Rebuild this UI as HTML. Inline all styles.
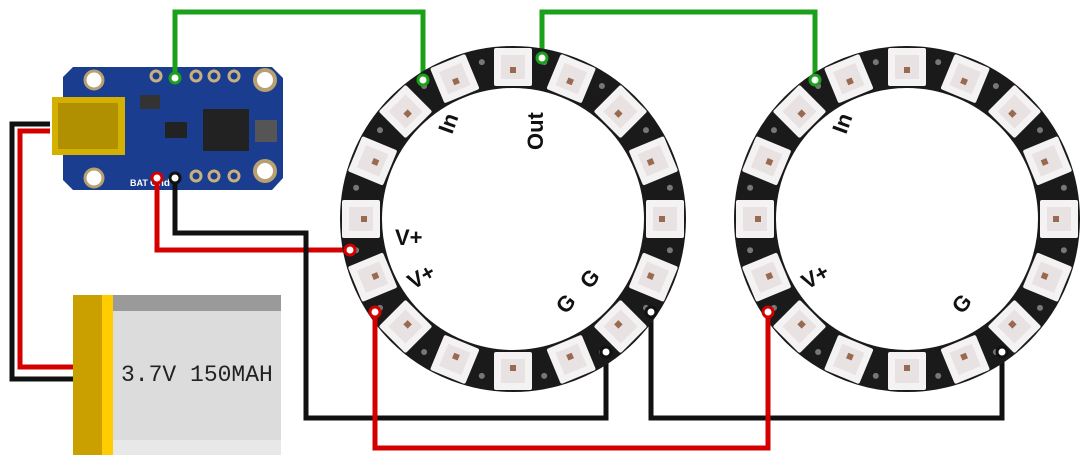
<!DOCTYPE html>
<html><head><meta charset="utf-8"><style>
html,body{margin:0;padding:0;background:#fff;width:1088px;height:467px;overflow:hidden}
svg{display:block}
text{font-family:"Liberation Sans",sans-serif;font-weight:bold}
</style></head><body>
<svg id="s" width="1088" height="467" viewBox="0 0 1088 467" xmlns="http://www.w3.org/2000/svg">
<rect width="1088" height="467" fill="#fff"/>
<polyline points="50,124 12,124 12,379 74,379" fill="none" stroke="#111" stroke-width="5"/>
<polyline points="50,131 20,131 20,367 74,367" fill="none" stroke="#d40000" stroke-width="5"/>
<rect x="73" y="295" width="208" height="160" rx="4" fill="#dcdcdc"/>
<rect x="73" y="295" width="208" height="16" fill="#9a9a9a"/>
<rect x="73" y="440" width="208" height="15" fill="#e8e8e8"/>
<rect x="73" y="295" width="29" height="160" fill="#c9a000"/>
<rect x="102" y="295" width="11" height="160" fill="#ffcc00"/>
<text x="121" y="381" style="font-family:'Liberation Mono',monospace;font-weight:normal" font-size="23" fill="#222">3.7V 150MAH</text>
<path d="M73,67 H272 L283,78 V178 L272,190 H73 L63,180 V77 Z" fill="#1a3d8f"/>
<circle cx="94" cy="80" r="9" fill="#fff" stroke="#b8a070" stroke-width="3"/>
<circle cx="94" cy="178" r="9" fill="#fff" stroke="#b8a070" stroke-width="3"/>
<circle cx="265" cy="80" r="10" fill="#fff" stroke="#b8a070" stroke-width="4"/>
<circle cx="265" cy="171" r="10" fill="#fff" stroke="#b8a070" stroke-width="4"/>
<g fill="#1a3d8f" stroke="#c8b080" stroke-width="3">
<circle cx="156" cy="76" r="5"/><circle cx="196" cy="76" r="5"/><circle cx="214" cy="76" r="5"/><circle cx="234" cy="76" r="5"/>
<circle cx="196" cy="176" r="5"/><circle cx="214" cy="176" r="5"/><circle cx="234" cy="176" r="5"/></g>
<rect x="203" y="109" width="46" height="42" fill="#222"/>
<rect x="255" y="120" width="22" height="22" fill="#555"/>
<rect x="165" y="122" width="22" height="16" fill="#222"/>
<rect x="140" y="95" width="20" height="14" fill="#333"/>
<rect x="52" y="97" width="73" height="58" fill="#d4b000"/>
<rect x="58" y="103" width="60" height="46" fill="#b09000"/>
<text x="150" y="186" font-size="10" fill="#fff">Gnd</text>
<text x="130" y="186" font-size="9" fill="#fff">BAT</text>
<g fill="none" stroke-width="5">
<polyline points="175,78 175,12 423,12 423,80" stroke="#1aa01a"/>
<polyline points="542,58 542,12 815,12 815,80" stroke="#1aa01a"/>
<polyline points="157,178 157,250 350,250" stroke="#d40000"/>
<polyline points="175,178 175,233 306,233 306,418 606,418 606,352" stroke="#111"/>
<polyline points="651,312 651,418 1002,418 1002,352" stroke="#111"/>
</g>
<g id="rings"></g>
<polyline points="375,312 375,448 768,448 768,312" fill="none" stroke="#d40000" stroke-width="5"/>
<g stroke-width="3" fill="#fff">
<circle cx="175" cy="78" r="5" stroke="#1aa01a"/>
<circle cx="423" cy="80" r="5" stroke="#1aa01a"/>
<circle cx="542" cy="58" r="5" stroke="#1aa01a"/>
<circle cx="815" cy="80" r="5" stroke="#1aa01a"/>
<circle cx="157" cy="178" r="5" stroke="#d40000"/>
<circle cx="350" cy="250" r="5" stroke="#d40000"/>
<circle cx="375" cy="312" r="5" stroke="#d40000"/>
<circle cx="768" cy="312" r="5" stroke="#d40000"/>
<circle cx="175" cy="178" r="5" stroke="#111"/>
<circle cx="606" cy="352" r="5" stroke="#111"/>
<circle cx="651" cy="312" r="5" stroke="#111"/>
<circle cx="1002" cy="352" r="5" stroke="#111"/>
</g>
<g font-size="22" fill="#111">
<text x="452" y="135" transform="rotate(-70 452 135)">In</text>
<text x="543" y="150" transform="rotate(-90 543 150)">Out</text>
<text x="395" y="245">V+</text>
<text x="413" y="290" transform="rotate(-30 413 290)">V+</text>
<text x="590" y="290" transform="rotate(-50 590 290)">G</text>
<text x="566" y="315" transform="rotate(-50 566 315)">G</text>
<text x="846" y="135" transform="rotate(-70 846 135)">In</text>
<text x="807" y="290" transform="rotate(-30 807 290)">V+</text>
<text x="962" y="315" transform="rotate(-50 962 315)">G</text>
</g>
</svg>
<script>
var g=document.getElementById('rings'),h='';
[[513,219],[907,219]].forEach(function(c){
 h+='<circle cx="'+c[0]+'" cy="'+c[1]+'" r="152" fill="none" stroke="#1a1a1a" stroke-width="42"/>';
 for(var i=0;i<16;i++){var a=i*22.5,r=a*Math.PI/180,x=c[0]+152*Math.sin(r),y=c[1]-152*Math.cos(r);
  h+='<g transform="translate('+x.toFixed(1)+' '+y.toFixed(1)+') rotate('+a+')"><rect x="-19" y="-19" width="38" height="38" rx="2" fill="#f4f2f2"/><rect x="-12" y="-12" width="24" height="24" fill="#e8e2e2"/><rect x="-3" y="0" width="6" height="6" fill="#9a6a50"/></g>';
  var b=(a+11.25)*Math.PI/180;h+='<circle cx="'+(c[0]+160*Math.sin(b)).toFixed(1)+'" cy="'+(c[1]-160*Math.cos(b)).toFixed(1)+'" r="3" fill="#777"/>';}
});
g.innerHTML=h;
</script>
</body></html>
